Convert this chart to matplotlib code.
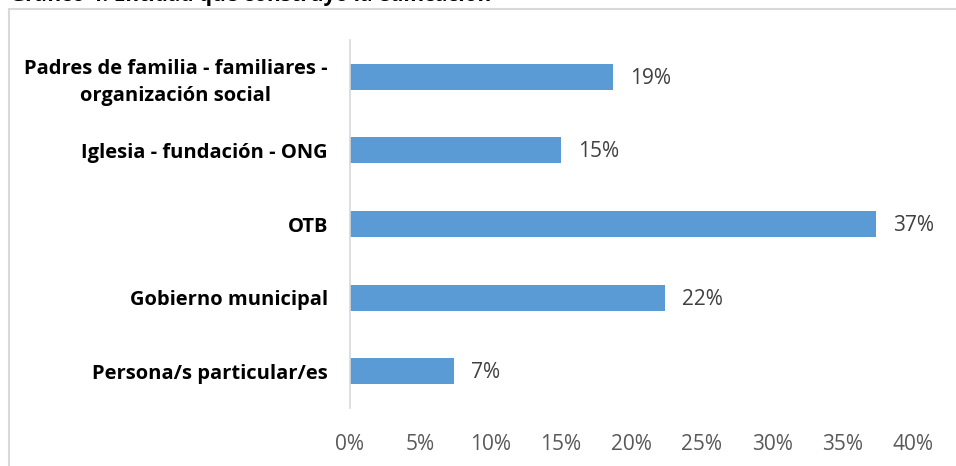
import matplotlib
import matplotlib.pyplot as plt
from matplotlib.lines import Line2D

plt.switch_backend('agg')

# data
categorias = ['Padres de familia - familiares -\norganización social',
              'Iglesia - fundación - ONG',
              'OTB',
              'Gobierno municipal',
              'Persona/s particular/es']
valores = [18.7, 15.0, 37.4, 22.4, 7.4]
ticks_x = [0, 5, 10, 15, 20, 25, 30, 35, 40]
titulo = 'Gráfico 4. Entidad que construyó la edificación'

azul = '#5b9bd5'
gris = '#595959'
fuente = ['Open Sans', 'DejaVu Sans']

fig = plt.figure(figsize=(9.56, 4.66), dpi=100)
W, H = 956, 466

# frame of the chart (only top and left visible in the crop)
fig.add_artist(Line2D([8.5 / W, 1.0], [1 - 8.5 / H] * 2, color='#d9d9d9', lw=1.5))
fig.add_artist(Line2D([8.5 / W] * 2, [0.0, 1 - 8.5 / H], color='#d9d9d9', lw=1.5))

# title cut by the top edge of the image
fig.text(10 / W, 1 - 1.5 / H, titulo, ha='left', va='baseline', fontsize=15,
         fontweight='bold', family=fuente, color='black')

ax = fig.add_axes([350 / W, 1 - 408 / H, (913 - 350) / W, (408 - 40) / H])
pos = list(range(len(categorias)))[::-1]
ax.barh(pos, valores, height=0.355, color=azul)
for y, v in zip(pos, valores):
    ax.text(v + 1.2, y - 0.02, f'{v:.0f}%', va='center', ha='left',
            fontsize=15, color='#404040', family=fuente)

ax.set_xlim(0, 40)
ax.set_ylim(-0.5, 4.5)
ax.set_xticks(ticks_x)
ax.set_xticklabels([f'{t}%' for t in ticks_x], fontsize=15, color=gris, family=fuente)
ax.set_yticks(pos)
ax.set_yticklabels(categorias, fontsize=14.5, fontweight='bold', color='black',
                   family=fuente, ha='right', multialignment='center',
                   linespacing=1.45)
ax.tick_params(axis='y', length=0, pad=16)
ax.tick_params(axis='x', length=0, pad=19)
for s in ['top', 'right', 'bottom']:
    ax.spines[s].set_visible(False)
ax.spines['left'].set_color('#d9d9d9')
ax.spines['left'].set_linewidth(1.2)

plt.savefig('out.png', dpi=100)
